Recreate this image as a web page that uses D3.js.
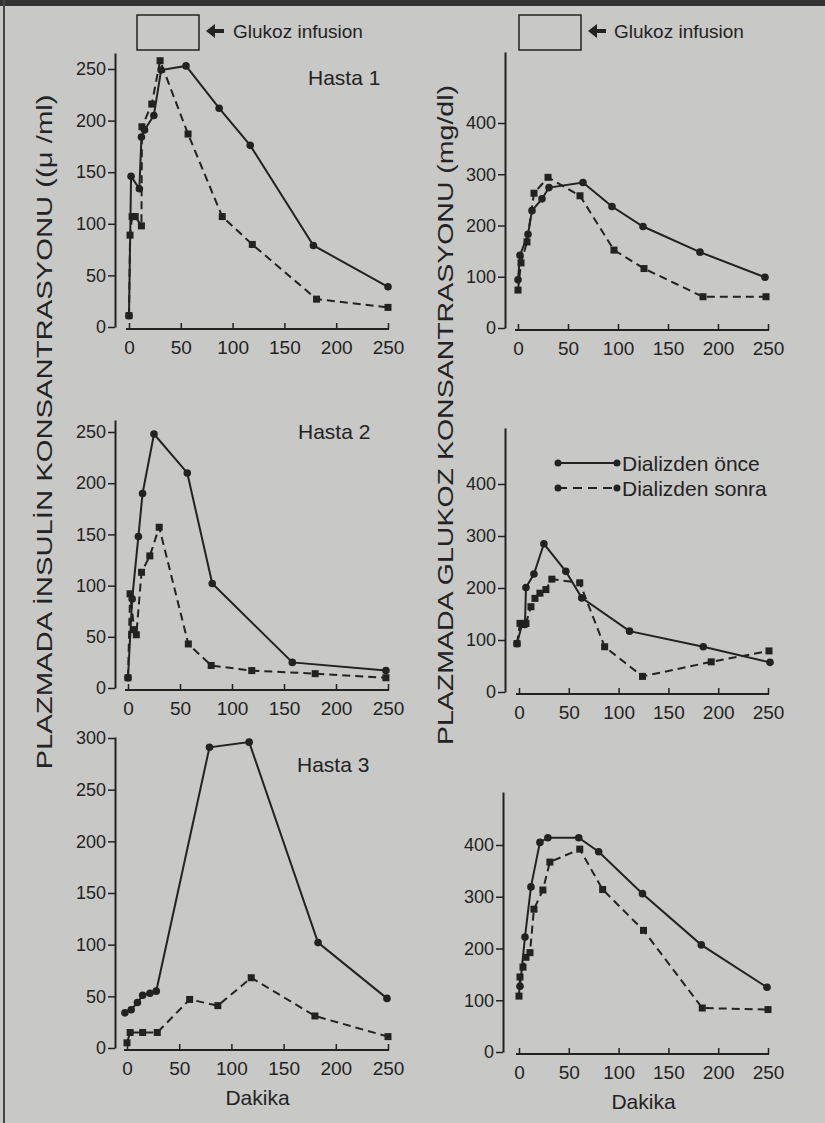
<!DOCTYPE html>
<html>
<head>
<meta charset="utf-8">
<script src="https://cdn.jsdelivr.net/npm/d3@7"></script>
<style>
  body { margin: 0; background: #c8c8c6; }
  text { font-family: "Liberation Sans", Arial, sans-serif; fill: #232323; }
</style>
</head>
<body>
<script>
// minutes on the x axis
const xTicks = [0, 50, 100, 150, 200, 250];
const insTicks = [0, 50, 100, 150, 200, 250];
const insTicks3 = [0, 50, 100, 150, 200, 250, 300];
const gluTicks = [0, 100, 200, 300, 400];

// Hasta 1 - insulin
const h1InsBeforeT = [0, 2, 10, 12, 15, 24, 31, 55, 87, 117, 178, 250];
const h1InsBefore  = [11, 146, 134, 184, 191, 205, 249, 253, 212, 176, 79, 39];
const h1InsAfterT  = [0, 1, 3, 6, 12, 12.5, 22, 30, 57, 90, 119, 181, 250];
const h1InsAfter   = [11, 89, 107, 107, 98, 194, 216, 258, 187, 107, 80, 27, 19];
// Hasta 2 - insulin
const h2InsBeforeT = [0, 4, 10, 14, 25, 57, 81, 158, 248];
const h2InsBefore  = [10, 87, 148, 190, 248, 210, 102, 25, 17];
const h2InsAfterT  = [0, 2, 6, 8, 13, 21, 30, 58, 80, 119, 180, 248];
const h2InsAfter   = [10, 92, 57, 52, 113, 129, 157, 43, 22, 17, 14, 10];
// Hasta 3 - insulin
const h3InsBeforeT = [-2, 4, 10, 15, 22, 28, 79, 117, 183, 249];
const h3InsBefore  = [34, 37, 44, 51, 53, 55, 291, 296, 102, 48];
const h3InsAfterT  = [0, 3, 15, 29, 60, 87, 119, 180, 250];
const h3InsAfter   = [5, 15, 15, 15, 47, 41, 68, 31, 11];

// Hasta 1 - glucose
const h1GluBeforeT = [0, 2, 10, 14, 24, 31, 65, 94, 125, 182, 247];
const h1GluBefore  = [94, 142, 183, 229, 252, 274, 284, 237, 198, 148, 99];
const h1GluAfterT  = [0, 3, 9, 16, 30, 62, 96, 126, 185, 248];
const h1GluAfter   = [74, 127, 168, 263, 294, 258, 152, 116, 61, 61];
// Hasta 2 - glucose
const h2GluBeforeT = [-2, 3, 6, 7, 15, 25, 47, 63, 111, 185, 252];
const h2GluBefore  = [93, 130, 130, 201, 227, 285, 232, 181, 117, 87, 57];
const h2GluAfterT  = [-2, 1, 7, 12, 16, 21, 27, 33, 61, 86, 124, 193, 251];
const h2GluAfter   = [93, 132, 132, 164, 180, 190, 197, 217, 210, 87, 30, 58, 79];
// Hasta 3 - glucose
const h3GluBeforeT = [1, 6, 12, 21, 29, 60, 80, 124, 183, 249];
const h3GluBefore  = [127, 222, 319, 405, 414, 414, 387, 306, 207, 125];
const h3GluAfterT  = [0, 1, 4, 7, 11, 15, 24, 31, 61, 84, 125, 184, 250];
const h3GluAfter   = [108, 145, 164, 183, 192, 276, 313, 367, 392, 314, 235, 85, 82];

const ink = "#222";
const W = 825, H = 1123;

const svg = d3.select("body").append("svg")
  .attr("width", W)
  .attr("height", H);

svg.append("rect").attr("width", W).attr("height", H).attr("fill", "#c8c8c6");
// scan frame
svg.append("line").attr("x1", 0).attr("x2", W).attr("y1", 3).attr("y2", 3)
  .attr("stroke", "#333").attr("stroke-width", 6);
svg.append("line").attr("x1", 4).attr("x2", 4).attr("y1", 0).attr("y2", H)
  .attr("stroke", "#444").attr("stroke-width", 2);

const panels = [
  {title: "Hasta 1", titleX: 308, titleY: 85, axisX: 115, xRange: [129, 388], y0: 327, yTick: 250, yTickPx: 69, topPx: 53,
   ticks: insTicks, bT: h1InsBeforeT, b: h1InsBefore, aT: h1InsAfterT, a: h1InsAfter},
  {title: "Hasta 2", titleX: 298, titleY: 439, axisX: 115, xRange: [128, 388], y0: 688, yTick: 250, yTickPx: 432, topPx: 420,
   ticks: insTicks, bT: h2InsBeforeT, b: h2InsBefore, aT: h2InsAfterT, a: h2InsAfter},
  {title: "Hasta 3", titleX: 297, titleY: 772, axisX: 115, xRange: [127, 388], y0: 1048, yTick: 300, yTickPx: 738, topPx: 737,
   ticks: insTicks3, bT: h3InsBeforeT, b: h3InsBefore, aT: h3InsAfterT, a: h3InsAfter, xLabel: true},
  {axisX: 505, xRange: [518, 768], y0: 328, yTick: 400, yTickPx: 123, topPx: 52,
   ticks: gluTicks, bT: h1GluBeforeT, b: h1GluBefore, aT: h1GluAfterT, a: h1GluAfter},
  {axisX: 505, xRange: [519, 768], y0: 692, yTick: 400, yTickPx: 484, topPx: 428,
   ticks: gluTicks, bT: h2GluBeforeT, b: h2GluBefore, aT: h2GluAfterT, a: h2GluAfter, legend: true},
  {axisX: 503, xRange: [519, 768], y0: 1052, yTick: 400, yTickPx: 845, topPx: 792,
   ticks: gluTicks, bT: h3GluBeforeT, b: h3GluBefore, aT: h3GluAfterT, a: h3GluAfter, xLabel: true}
];

function drawPanel(p) {
  const x = d3.scaleLinear().domain([0, 250]).range(p.xRange);
  const y = d3.scaleLinear().domain([0, p.yTick]).range([p.y0, p.yTickPx]);
  const yAxisScale = y.copy().domain([0, y.invert(p.topPx)]).range([p.y0, p.topPx]);

  const g = svg.append("g");

  // y axis, ticks outward
  const yAxis = g.append("g")
    .attr("transform", "translate(" + p.axisX + ",0)")
    .call(d3.axisLeft(yAxisScale).tickValues(p.ticks).tickSizeInner(7).tickSizeOuter(0).tickPadding(2));
  yAxis.select(".domain").attr("stroke", ink).attr("stroke-width", 2);
  yAxis.selectAll(".tick line").attr("stroke", ink).attr("stroke-width", 1.5);
  yAxis.selectAll(".tick text").attr("font-size", 18).attr("fill", ink)
    .style("font-family", "'Liberation Sans', Arial, sans-serif");

  // x axis, ticks inward
  const xAxis = g.append("g")
    .attr("transform", "translate(0," + (p.y0 + 2) + ")")
    .call(d3.axisBottom(x).tickValues(xTicks).tickSizeInner(-6).tickSizeOuter(0).tickPadding(8));
  xAxis.select(".domain").attr("stroke", ink).attr("stroke-width", 2)
    .attr("d", "M" + (x(0) - 3) + ",0H" + (x(250) + 1));
  xAxis.selectAll(".tick line").attr("stroke", ink).attr("stroke-width", 1.5);
  xAxis.selectAll(".tick text").attr("font-size", 19).attr("fill", ink)
    .attr("dy", "0.9em")
    .style("font-family", "'Liberation Sans Narrow', 'Liberation Sans', Arial, sans-serif");

  if (p.title) {
    g.append("text").attr("x", p.titleX).attr("y", p.titleY)
      .attr("font-size", 21).text(p.title);
  }
  if (p.xLabel) {
    g.append("text").attr("x", (x(0) + x(250)) / 2).attr("y", p.y0 + 57)
      .attr("text-anchor", "middle").attr("font-size", 21).text("Dakika");
  }

  const line = d3.line().x(d => x(d[0])).y(d => y(d[1]));
  const before = d3.zip(p.bT, p.b);
  const after = d3.zip(p.aT, p.a);

  g.append("path").datum(after).attr("d", line)
    .attr("fill", "none").attr("stroke", ink).attr("stroke-width", 2)
    .attr("stroke-dasharray", "8,5");
  g.append("path").datum(before).attr("d", line)
    .attr("fill", "none").attr("stroke", ink).attr("stroke-width", 2);

  g.selectAll(".sq").data(after).enter().append("rect")
    .attr("x", d => x(d[0]) - 3.5).attr("y", d => y(d[1]) - 3.5)
    .attr("width", 7).attr("height", 7).attr("fill", ink);
  g.selectAll(".dot").data(before).enter().append("circle")
    .attr("cx", d => x(d[0])).attr("cy", d => y(d[1])).attr("r", 3.8)
    .attr("fill", ink);

  if (p.legend) {
    const items = [{label: "Dializden önce", dash: null, yy: 463},
                   {label: "Dializden sonra", dash: "9,6", yy: 488}];
    items.forEach(it => {
      g.append("line").attr("x1", 558).attr("x2", 617).attr("y1", it.yy).attr("y2", it.yy)
        .attr("stroke", ink).attr("stroke-width", 2).attr("stroke-dasharray", it.dash);
      [558, 617].forEach(cx => g.append("circle").attr("cx", cx).attr("cy", it.yy).attr("r", 3.5).attr("fill", ink));
      g.append("text").attr("x", 622).attr("y", it.yy + 8).attr("font-size", 21).text(it.label);
    });
  }
}

panels.forEach(drawPanel);

// glucose infusion markers
[{bx: 137, tx: 233}, {bx: 519, tx: 614}].forEach(m => {
  svg.append("rect").attr("x", m.bx).attr("y", 15).attr("width", 62).attr("height", 35)
    .attr("fill", "none").attr("stroke", ink).attr("stroke-width", 1.5);
  const ax = m.bx + 69;
  svg.append("path")
    .attr("d", "M" + ax + ",31L" + (ax + 9) + ",24L" + (ax + 9) + ",38Z")
    .attr("fill", ink);
  svg.append("line").attr("x1", ax + 8).attr("x2", ax + 18).attr("y1", 31).attr("y2", 31)
    .attr("stroke", ink).attr("stroke-width", 4);
  svg.append("text").attr("x", m.tx).attr("y", 38).attr("font-size", 19).text("Glukoz infusion");
});

// axis titles: wide caps in the print, so stretch the glyphs to its length
svg.append("text")
  .attr("transform", "translate(52,432) rotate(-90)")
  .attr("text-anchor", "middle").attr("font-size", 22)
  .attr("textLength", 675).attr("lengthAdjust", "spacingAndGlyphs")
  .text("PLAZMADA İNSULİN KONSANTRASYONU ((μ /ml)");
svg.append("text")
  .attr("transform", "translate(453,415) rotate(-90)")
  .attr("text-anchor", "middle").attr("font-size", 22)
  .attr("textLength", 660).attr("lengthAdjust", "spacingAndGlyphs")
  .text("PLAZMADA GLUKOZ KONSANTRASYONU (mg/dl)");
</script>
</body>
</html>
